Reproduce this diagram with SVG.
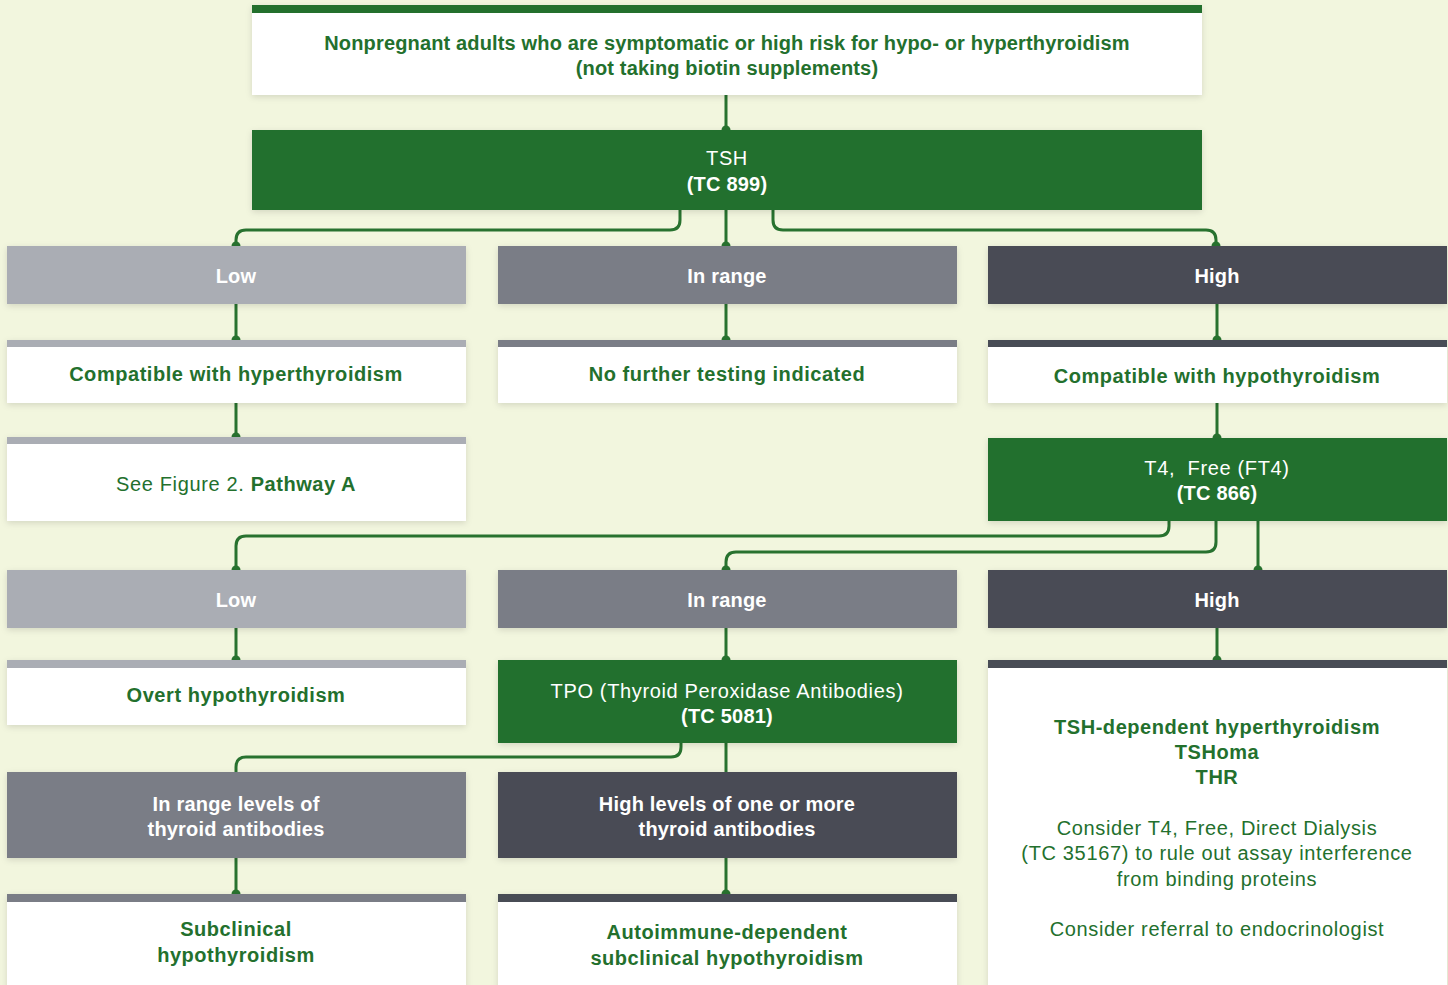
<svg xmlns="http://www.w3.org/2000/svg" width="1448" height="985" viewBox="0 0 1448 985">
<defs>
<filter id="sh" x="-5%" y="-10%" width="110%" height="130%">
<feDropShadow dx="0" dy="2" stdDeviation="3" flood-color="#000" flood-opacity="0.13"/>
</filter>
<style>
.bg{fill:#f2f6de}
.w{fill:#ffffff}
.g{fill:#23702d}
.c1{fill:#aaadb4}
.c2{fill:#7a7d86}
.c3{fill:#484c55}
.t{font-family:"Liberation Sans",Arial,sans-serif;font-size:20px;text-anchor:middle;letter-spacing:0.65px}
.tg{fill:#23702d}
.tw{fill:#ffffff}
.b{font-weight:bold;letter-spacing:0.2px}
.tg.b{letter-spacing:0.55px}
.tg.b.top{letter-spacing:0.15px}
.ln{fill:none;stroke:#28722f;stroke-width:3}
.dot{fill:#28722f}
</style>
</defs>
<rect class="bg" x="0" y="0" width="1448" height="985"/>

<g id="connectors">
<path class="ln" d="M726,95 V130"/>
<path class="ln" d="M680,210 V220 Q680,230 670,230 H246 Q236,230 236,240 V246"/>
<path class="ln" d="M726,210 V246"/>
<path class="ln" d="M773,210 V220 Q773,230 783,230 H1206 Q1216,230 1216,240 V246"/>
<path class="ln" d="M236,304 V340"/>
<path class="ln" d="M726,304 V340"/>
<path class="ln" d="M1217,304 V340"/>
<path class="ln" d="M236,403 V437"/>
<path class="ln" d="M1217,403 V438"/>
<path class="ln" d="M1169,521 V526 Q1169,536 1159,536 H246 Q236,536 236,546 V570"/>
<path class="ln" d="M1216,521 V542 Q1216,552 1206,552 H736 Q726,552 726,562 V570"/>
<path class="ln" d="M1258,521 V570"/>
<path class="ln" d="M236,628 V660"/>
<path class="ln" d="M726,628 V660"/>
<path class="ln" d="M1217,628 V660"/>
<path class="ln" d="M681,743 V747 Q681,757 671,757 H246 Q236,757 236,767 V772"/>
<path class="ln" d="M726,743 V772"/>
<path class="ln" d="M236,858 V894"/>
<path class="ln" d="M726,858 V894"/>
<circle class="dot" cx="726" cy="130" r="4.5"/>
<circle class="dot" cx="236" cy="246" r="4.5"/>
<circle class="dot" cx="726" cy="246" r="4.5"/>
<circle class="dot" cx="1216" cy="246" r="4.5"/>
<circle class="dot" cx="236" cy="340" r="4.5"/>
<circle class="dot" cx="726" cy="340" r="4.5"/>
<circle class="dot" cx="1217" cy="340" r="4.5"/>
<circle class="dot" cx="236" cy="437" r="4.5"/>
<circle class="dot" cx="1217" cy="438" r="4.5"/>
<circle class="dot" cx="236" cy="570" r="4.5"/>
<circle class="dot" cx="726" cy="570" r="4.5"/>
<circle class="dot" cx="1258" cy="570" r="4.5"/>
<circle class="dot" cx="236" cy="660" r="4.5"/>
<circle class="dot" cx="726" cy="660" r="4.5"/>
<circle class="dot" cx="1217" cy="660" r="4.5"/>
<circle class="dot" cx="236" cy="894" r="4.5"/>
<circle class="dot" cx="726" cy="894" r="4.5"/>
</g>

<g id="start">
<rect class="w" x="252" y="5" width="950" height="90" filter="url(#sh)"/>
<rect class="g" x="252" y="5" width="950" height="8"/>
<text class="t tg b top" x="727" y="50">Nonpregnant adults who are symptomatic or high risk for hypo- or hyperthyroidism</text>
<text class="t tg b top" x="727" y="75">(not taking biotin supplements)</text>
</g>

<g id="tsh">
<rect class="g" x="252" y="130" width="950" height="80" filter="url(#sh)"/>
<text class="t tw" x="727" y="165">TSH</text>
<text class="t tw b" x="727" y="191">(TC 899)</text>
</g>

<g id="tsh-low">
<rect class="c1" x="7" y="246" width="459" height="58" filter="url(#sh)"/>
<text class="t tw b" x="236" y="283">Low</text>
</g>
<g id="tsh-inrange">
<rect class="c2" x="498" y="246" width="459" height="58" filter="url(#sh)"/>
<text class="t tw b" x="727" y="283">In range</text>
</g>
<g id="tsh-high">
<rect class="c3" x="988" y="246" width="459" height="58" filter="url(#sh)"/>
<text class="t tw b" x="1217" y="283">High</text>
</g>

<g id="compat-hyper">
<rect class="w" x="7" y="340" width="459" height="63" filter="url(#sh)"/>
<rect class="c1" x="7" y="340" width="459" height="7"/>
<text class="t tg b" x="236" y="381">Compatible with hyperthyroidism</text>
</g>
<g id="no-further">
<rect class="w" x="498" y="340" width="459" height="63" filter="url(#sh)"/>
<rect class="c2" x="498" y="340" width="459" height="7"/>
<text class="t tg b" x="727" y="381">No further testing indicated</text>
</g>
<g id="compat-hypo">
<rect class="w" x="988" y="340" width="459" height="63" filter="url(#sh)"/>
<rect class="c3" x="988" y="340" width="459" height="7"/>
<text class="t tg b" x="1217" y="383">Compatible with hypothyroidism</text>
</g>

<g id="pathway-a">
<rect class="w" x="7" y="437" width="459" height="84" filter="url(#sh)"/>
<rect class="c1" x="7" y="437" width="459" height="7"/>
<text class="t tg" x="236" y="491">See Figure 2. <tspan class="b" style="letter-spacing:0.55px">Pathway A</tspan></text>
</g>

<g id="ft4">
<rect class="g" x="988" y="438" width="459" height="83" filter="url(#sh)"/>
<text class="t tw" x="1217" y="475">T4,&#160; Free (FT4)</text>
<text class="t tw b" x="1217" y="500">(TC 866)</text>
</g>

<g id="ft4-low">
<rect class="c1" x="7" y="570" width="459" height="58" filter="url(#sh)"/>
<text class="t tw b" x="236" y="607">Low</text>
</g>
<g id="ft4-inrange">
<rect class="c2" x="498" y="570" width="459" height="58" filter="url(#sh)"/>
<text class="t tw b" x="727" y="607">In range</text>
</g>
<g id="ft4-high">
<rect class="c3" x="988" y="570" width="459" height="58" filter="url(#sh)"/>
<text class="t tw b" x="1217" y="607">High</text>
</g>

<g id="overt">
<rect class="w" x="7" y="660" width="459" height="65" filter="url(#sh)"/>
<rect class="c1" x="7" y="660" width="459" height="8"/>
<text class="t tg b" x="236" y="702">Overt hypothyroidism</text>
</g>

<g id="tpo">
<rect class="g" x="498" y="660" width="459" height="83" filter="url(#sh)"/>
<text class="t tw" x="727" y="698">TPO (Thyroid Peroxidase Antibodies)</text>
<text class="t tw b" x="727" y="723">(TC 5081)</text>
</g>

<g id="tsh-dependent">
<rect class="w" x="988" y="660" width="459" height="335" filter="url(#sh)"/>
<rect class="c3" x="988" y="660" width="459" height="8"/>
<text class="t tg b" x="1217" y="734">TSH-dependent hyperthyroidism</text>
<text class="t tg b" x="1217" y="759">TSHoma</text>
<text class="t tg b" x="1217" y="784">THR</text>
<text class="t tg" x="1217" y="835">Consider T4, Free, Direct Dialysis</text>
<text class="t tg" x="1217" y="860">(TC 35167) to rule out assay interference</text>
<text class="t tg" x="1217" y="886">from binding proteins</text>
<text class="t tg" x="1217" y="936">Consider referral to endocrinologist</text>
</g>

<g id="ab-inrange">
<rect class="c2" x="7" y="772" width="459" height="86" filter="url(#sh)"/>
<text class="t tw b" x="236" y="811">In range levels of</text>
<text class="t tw b" x="236" y="836">thyroid antibodies</text>
</g>
<g id="ab-high">
<rect class="c3" x="498" y="772" width="459" height="86" filter="url(#sh)"/>
<text class="t tw b" x="727" y="811">High levels of one or more</text>
<text class="t tw b" x="727" y="836">thyroid antibodies</text>
</g>

<g id="subclinical">
<rect class="w" x="7" y="894" width="459" height="100" filter="url(#sh)"/>
<rect class="c2" x="7" y="894" width="459" height="8"/>
<text class="t tg b" x="236" y="936">Subclinical</text>
<text class="t tg b" x="236" y="962">hypothyroidism</text>
</g>
<g id="autoimmune">
<rect class="w" x="498" y="894" width="459" height="100" filter="url(#sh)"/>
<rect class="c3" x="498" y="894" width="459" height="8"/>
<text class="t tg b" x="727" y="939">Autoimmune-dependent</text>
<text class="t tg b" x="727" y="965">subclinical hypothyroidism</text>
</g>
</svg>
